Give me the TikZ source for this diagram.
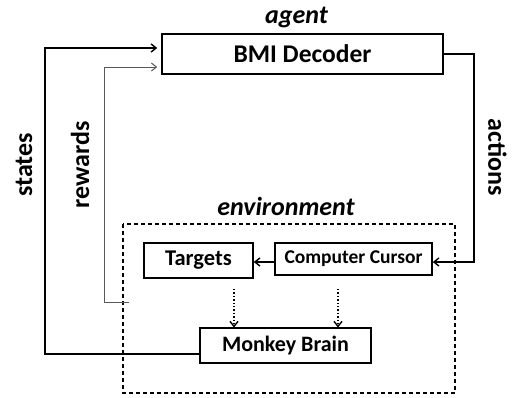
\documentclass[tikz,border=0pt]{standalone}
\usepackage{fontspec}
\setmainfont{Carlito}
\usetikzlibrary{arrows.meta}
\begin{document}
\begin{tikzpicture}[x=1pt,y=-1pt,
  box/.style={draw,line width=1.6pt,inner sep=0pt,font=\bfseries},
  conn/.style={line width=1.4pt,-{Straight Barb[length=5pt,width=8pt]}},
  dotconn/.style={line width=1.4pt,dotted,-{Straight Barb[length=5pt,width=8pt]}},
  lbl/.style={font=\bfseries\fontsize{26}{28}\selectfont},
  ilbl/.style={font=\bfseries\itshape\fontsize{26}{28}\selectfont}]
\useasboundingbox (0,0) rectangle (514,397);
\node[box,minimum width=281pt,minimum height=40pt,font=\bfseries\fontsize{25.5}{28}\selectfont] (dec) at (302.5,54) {BMI Decoder};
\node[ilbl] (agent) at (296.5,17) {agent};
\draw[dash pattern=on 4pt off 3pt,line width=1.1pt] (123,224) rectangle (455,393);
\node[ilbl] (env) at (286,206) {environment};
\node[box,minimum width=109pt,minimum height=35pt,font=\bfseries\fontsize{22.5}{25}\selectfont] (tgt) at (198.5,260.5) {Targets};
\node[box,minimum width=157pt,minimum height=32pt,font=\bfseries\fontsize{19.5}{22}\selectfont] (cur) at (353.5,259) {Computer Cursor};
\node[box,minimum width=171pt,minimum height=35pt,font=\bfseries\fontsize{22}{24}\selectfont] (mb) at (285.5,345.5) {Monkey Brain};
\coordinate (sA) at (45,354);
\coordinate (sB) at (45,48);
\coordinate (rA) at (129,302);
\coordinate (rB) at (104,302);
\coordinate (rC) at (104,67);
\coordinate (aA) at (474,54);
\coordinate (aB) at (474,262);
\draw[conn] (mb.west |- sA) -- (sA) -- (sB) -- ([xshift=-4pt]sB -| dec.west);
\draw[conn,line width=1pt,draw=black!65] (rA) -- (rB) -- (rC) -- ([xshift=-4pt]rC -| dec.west);
\draw[conn] (dec.east) -- (aA) -- (aB) -- (aB -| cur.east);
\draw[conn] (cur.west |- 0,262) -- (tgt.east |- 0,262);
\draw[dotconn] (234,289) -- (234,327.5);
\draw[dotconn] (338,289) -- (338,327.5);
\node[lbl,rotate=90] (st) at (24,165) {states};
\node[lbl,rotate=90] (rw) at (80,164.5) {rewards};
\node[lbl,rotate=-90] (ac) at (497.5,157) {actions};
\end{tikzpicture}
\end{document}
